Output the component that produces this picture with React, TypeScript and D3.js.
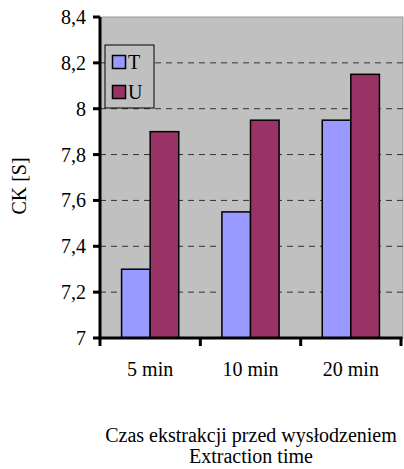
import React from "react";
import * as d3 from "d3";

const categories = ["5 min", "10 min", "20 min"];
const seriesNames = ["T", "U"];
const seriesT = [7.3, 7.55, 7.95];
const seriesU = [7.9, 7.95, 8.15];
const yTicks = [7, 7.2, 7.4, 7.6, 7.8, 8, 8.2, 8.4];
const yTickLabels = ["7", "7,2", "7,4", "7,6", "7,8", "8", "8,2", "8,4"];
const colors = ["#9999FF", "#993366"];
const yTitle = "CK [S]";
const xTitle1 = "Czas ekstrakcji przed wysłodzeniem";
const xTitle2 = "Extraction time";

export default function App() {
  const W = 404, H = 469;
  const left = 100, right = 401, top = 17, bottom = 338;
  const fs = 20;
  const font = "'Liberation Serif', 'Times New Roman', serif";
  const y = d3.scaleLinear().domain([7, 8.4]).range([bottom, top]);
  const x = d3.scaleBand<string>().domain(categories).range([left, right]).paddingInner(0.43).paddingOuter(0.215);
  const xs = d3.scaleBand<string>().domain(seriesNames).range([0, x.bandwidth()]);
  const series = [seriesT, seriesU];
  const step = x.step();
  const boundaries = d3.range(categories.length + 1).map((i) => left + i * step);

  return (
    <svg width={W} height={H} style={{ position: "absolute", left: 0, top: 0 }} fontFamily={font}>
      <rect x={left} y={top} width={403 - left} height={bottom - top} fill="#C0C0C0" stroke="#999" strokeWidth={1} />
      {yTicks.slice(1, -1).map((t) => (
        <line key={t} x1={left} x2={403} y1={y(t)} y2={y(t)} stroke="#333" strokeWidth={1} strokeDasharray="6,5" />
      ))}
      {/* legend */}
      <rect x={105} y={45} width={49} height={63} fill="#C0C0C0" stroke="#000" strokeWidth={1} />
      {seriesNames.map((s, i) => (
        <g key={s}>
          <rect x={112.5} y={55.5 + i * 30} width={13} height={13} fill={colors[i]} stroke="#000" strokeWidth={1.5} />
          <text x={128} y={68.5 + i * 30} fontSize={fs}>{s}</text>
        </g>
      ))}
      {categories.map((c, ci) => (
        <g key={c}>
          {series.map((vals, si) => (
            <rect
              key={si}
              x={(x(c) as number) + (xs(seriesNames[si]) as number)}
              y={y(vals[ci])}
              width={xs.bandwidth()}
              height={y(7) - y(vals[ci])}
              fill={colors[si]}
              stroke="#000"
              strokeWidth={1.5}
            />
          ))}
          <text x={(x(c) as number) + x.bandwidth() / 2} y={375.5} fontSize={fs} textAnchor="middle">{c}</text>
        </g>
      ))}
      {/* y axis */}
      <line x1={left} x2={left} y1={top} y2={bottom} stroke="#000" strokeWidth={3} />
      {yTicks.map((t, i) => (
        <g key={t}>
          <line x1={93} x2={left} y1={y(t)} y2={y(t)} stroke="#000" strokeWidth={3} />
          <text x={86} y={y(t)} dy="0.35em" fontSize={fs} textAnchor="end">{yTickLabels[i]}</text>
        </g>
      ))}
      {/* x axis */}
      <line x1={left - 1.5} x2={right + 1.5} y1={bottom} y2={bottom} stroke="#000" strokeWidth={3} />
      {boundaries.map((b) => (
        <line key={b} x1={b} x2={b} y1={bottom} y2={346} stroke="#000" strokeWidth={3} />
      ))}
      <text transform={`translate(26,186) rotate(-90)`} fontSize={fs} textAnchor="middle">{yTitle}</text>
      <text x={251} y={441.5} fontSize={fs} textAnchor="middle">{xTitle1}</text>
      <text x={251} y={462.5} fontSize={fs} textAnchor="middle">{xTitle2}</text>
    </svg>
  );
}
